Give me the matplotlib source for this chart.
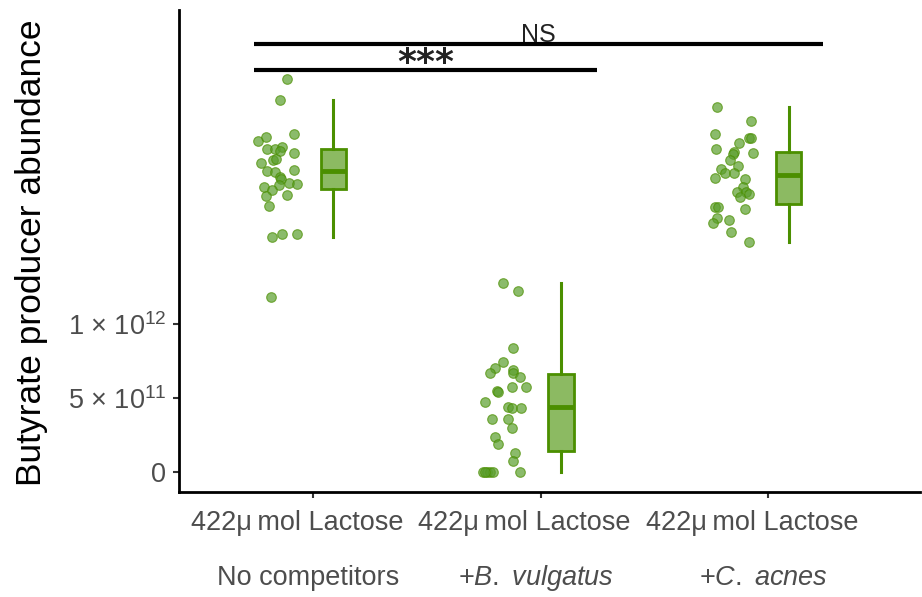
import matplotlib.pyplot as plt
from matplotlib import transforms

plt.rcParams['font.family'] = ['Liberation Sans', 'DejaVu Sans']
plt.rcParams['mathtext.fontset'] = 'custom'
plt.rcParams['mathtext.rm'] = 'Liberation Sans'
plt.rcParams['mathtext.it'] = 'Liberation Sans:italic'

# data (values in units of 1e12)
groups = ["No competitors", "B. vulgatus", "C. acnes"]
tick_labels = ["422\u03bc\u2009mol Lactose"] * 3

no_comp = [2.655, 2.514, 2.284, 2.236, 2.264, 2.182, 2.182, 2.196, 2.169, 2.155,
           2.088, 2.108, 2.115, 2.034, 2.027, 2.041, 1.993, 1.980, 1.939, 1.953,
           1.946, 1.926, 1.905, 1.865, 1.872, 1.797, 1.588, 1.608, 1.608, 1.182]
b_vulg = [1.277, 1.223, 0.838, 0.743, 0.703, 0.669, 0.689, 0.669, 0.642, 0.574,
          0.574, 0.547, 0.541, 0.473, 0.439, 0.432, 0.432, 0.358, 0.358, 0.297,
          0.236, 0.189, 0.128, 0.074, 0.0, 0.0, 0.0, 0.0, 0.0, 0.0]
c_acnes = [2.466, 2.372, 2.284, 2.257, 2.257, 2.223, 2.182, 2.155, 2.162, 2.149,
           2.108, 2.068, 2.047, 2.020, 2.020, 1.986, 1.980, 1.926, 1.892, 1.892,
           1.878, 1.858, 1.791, 1.791, 1.777, 1.716, 1.682, 1.703, 1.622, 1.554]

# horizontal jitter
jit_1 = [-0.114, -0.145, -0.084, -0.242, -0.207, -0.202, -0.167, -0.136, -0.145, -0.084,
         -0.229, -0.176, -0.163, -0.202, -0.167, -0.084, -0.145, -0.141, -0.149, -0.105,
         -0.070, -0.215, -0.180, -0.207, -0.114, -0.193, -0.180, -0.136, -0.070, -0.185]
jit_2 = [-0.167, -0.097, -0.119, -0.163, -0.202, -0.224, -0.123, -0.119, -0.092, -0.127,
         -0.066, -0.193, -0.189, -0.242, -0.145, -0.127, -0.084, -0.215, -0.145, -0.127,
         -0.198, -0.185, -0.114, -0.123, -0.251, -0.233, -0.220, -0.207, -0.092, -0.242]
jit_3 = [-0.224, -0.075, -0.233, -0.084, -0.075, -0.127, -0.229, -0.066, -0.149, -0.154,
         -0.167, -0.132, -0.207, -0.189, -0.149, -0.233, -0.101, -0.110, -0.136, -0.097,
         -0.084, -0.123, -0.233, -0.220, -0.101, -0.224, -0.242, -0.171, -0.163, -0.084]

values = [no_comp, b_vulg, c_acnes]
jitters = [jit_1, jit_2, jit_3]
positions = [1, 2, 3]

green = "#4b8f00"
fill = "#8cba62"

fig = plt.figure(figsize=(9.22, 5.97), dpi=100)
ax = fig.add_axes([0.194, 0.176, 0.804, 0.807])

for pos, vals, jit in zip(positions, values, jitters):
    xs = [pos + j for j in jit]
    ys = [v * 1e12 for v in vals]
    ax.scatter(xs, ys, s=48, color="#5a9e2c", alpha=0.7, edgecolor="#4b8f00",
               linewidth=0.8, zorder=3)

bp = ax.boxplot([[v * 1e12 for v in vals] for vals in values],
                positions=[p + 0.09 for p in positions], widths=0.11,
                patch_artist=True, showfliers=False, whis=1.5, manage_ticks=False)
for b in bp['boxes']:
    b.set(facecolor=fill, edgecolor=green, linewidth=2)
for w in bp['whiskers']:
    w.set(color=green, linewidth=2.2)
for c in bp['caps']:
    c.set(visible=False)
for m in bp['medians']:
    m.set(color=green, linewidth=3.5, solid_capstyle='butt')

# significance bars
ax.plot([0.74, 3.24], [2.89e12, 2.89e12], color="black", lw=3, solid_capstyle='butt', zorder=4)
ax.plot([0.74, 2.25], [2.716e12, 2.716e12], color="black", lw=3, solid_capstyle='butt', zorder=4)
ax.text(1.99, 2.905e12, "NS", ha="center", va="baseline", fontsize=18, color="#222222")
ax.text(1.495, 2.695e12, "***", ha="center", va="baseline", fontsize=26, color="#222222",
        family=["DejaVu Sans"], fontweight="bold")

ax.set_xlim(0.411, 3.668)
ax.set_ylim(-0.135e12, 3.12e12)

ax.set_xticks(positions)
ax.set_xticklabels([])
ax.set_yticks([0, 5e11, 1e12])
ax.set_yticklabels(["0", "5 \u00d7 10$^{11}$", "1 \u00d7 10$^{12}$"], fontsize=19.5, color="#4d4d4d")
ax.tick_params(axis="both", length=4, width=1.5, color="#333333")
ax.tick_params(axis="y", pad=5)

trans = transforms.blended_transform_factory(ax.transData, ax.transAxes)
sub_labels = ["No competitors", r"+$\mathit{B.}$ $\mathit{vulgatus}$", r"+$\mathit{C.}$ $\mathit{acnes}$"]
for pos, top, lab in zip(positions, tick_labels, sub_labels):
    ax.text(pos - 0.07, -0.065, top, transform=trans, ha="center", va="center",
            fontsize=19.5, color="#4d4d4d")
    ax.text(pos - 0.02, -0.178, lab, transform=trans, ha="center", va="center",
            fontsize=19.5, color="#4d4d4d")

ax.set_ylabel("Butyrate producer abundance", fontsize=25.5, color="black")
ax.yaxis.set_label_coords(-0.176, 0.496)

for side in ["top", "right"]:
    ax.spines[side].set_visible(False)
for side in ["left", "bottom"]:
    ax.spines[side].set_linewidth(2)

fig.savefig("out.png", dpi=100)
